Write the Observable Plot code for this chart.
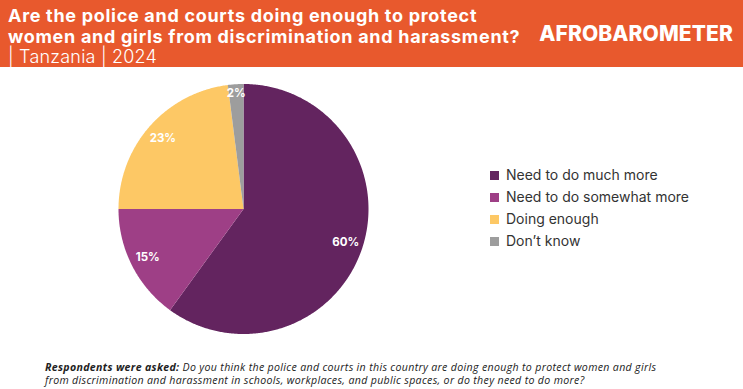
<!DOCTYPE html>
<html>
<head>
<meta charset="utf-8">
<script src="https://cdn.jsdelivr.net/npm/d3@7"></script>
<script src="https://cdn.jsdelivr.net/npm/@observablehq/plot@0.6"></script>
<style>
  html, body { margin: 0; padding: 0; background: #fff; }
  #page { position: relative; width: 743px; height: 389px; overflow: hidden; background: #fff; font-family: "Inter", "Open Sans", sans-serif; }
  #header { position: absolute; left: 0; top: 0; width: 743px; height: 67px; background: #E8592D; color: #fff; }
  #title { position: absolute; left: 8px; top: 6px; font-weight: 700; font-size: 18px; line-height: 20.5px; letter-spacing: 0.7px; }
  #title .sub { font-weight: 300; letter-spacing: 0.2px; }
  #logo { position: absolute; right: 10px; top: 21px; font-weight: 800; font-size: 21px; letter-spacing: 0.1px; }
  #chart { position: absolute; left: 0; top: 68px; }
  #legend { position: absolute; left: 490px; top: 164px; font-size: 14px; color: #333; }
  .item { height: 22px; line-height: 18px; display: flex; align-items: center; }
  .sw { width: 9px; height: 9px; margin-right: 7px; display: inline-block; }
  #footer { position: absolute; left: 45px; top: 361px; font-size: 10.6px; line-height: 13px; letter-spacing: 0.33px; font-style: italic; color: #222; font-family: "Open Sans", sans-serif; }
</style>
</head>
<body>
<div id="page">
  <div id="header">
    <div id="title">Are the police and courts doing enough to protect<br>women and girls from discrimination and harassment?<br><span class="sub">| Tanzania | 2024</span></div>
    <div id="logo">AFROBAROMETER</div>
  </div>
  <div id="chart"></div>
  <div id="legend"></div>
  <div id="footer"><b>Respondents were asked:</b> Do you think the police and courts in this country are doing enough to protect women and girls<br>from discrimination and harassment in schools, workplaces, and public spaces, or do they need to do more?</div>
</div>
<script>
const categories = ["Need to do much more", "Need to do somewhat more", "Doing enough", "Don\u2019t know"];
const values = [60, 15, 23, 2];
const labels = ["60%", "15%", "23%", "2%"];
const colors = ["#63245F", "#9E3F86", "#FDC865", "#9D9D9D"];

const total = d3.sum(values);
const slices = [];
const labelPts = [];
let acc = 0;
values.forEach((v, i) => {
  const a0 = acc / total * 2 * Math.PI;
  acc += v;
  const a1 = acc / total * 2 * Math.PI;
  slices.push({key: categories[i], x: 0, y: 0});
  const n = Math.max(2, Math.ceil((a1 - a0) / (Math.PI / 360)));
  for (let k = 0; k <= n; k++) {
    const a = a0 + (a1 - a0) * k / n;
    slices.push({key: categories[i], x: Math.sin(a), y: Math.cos(a)});
  }
  const am = (a0 + a1) / 2;
  const lr = v < 5 ? 0.93 : 0.86;
  labelPts.push({label: labels[i], x: lr * Math.sin(am), y: lr * Math.cos(am)});
});

const chart = Plot.plot({
  width: 743,
  height: 287,
  margin: 0,
  x: {domain: [-1, 1], range: [118, 368], axis: null},
  y: {domain: [-1, 1], range: [265.5, 15.5], axis: null},
  color: {domain: categories, range: colors},
  style: {background: "transparent", overflow: "visible"},
  marks: [
    Plot.line(slices, {x: "x", y: "y", z: "key", fill: "key", stroke: "none", curve: "linear"}),
    Plot.text(labelPts, {x: "x", y: "y", text: "label", fill: "#fff", fontWeight: 700, fontSize: 11.5, fontFamily: "Inter, sans-serif"})
  ]
});
document.getElementById("chart").appendChild(chart);

const legend = document.getElementById("legend");
categories.forEach((c, i) => {
  const d = document.createElement("div");
  d.className = "item";
  d.innerHTML = `<span class="sw" style="background:${colors[i]}"></span><span>${c}</span>`;
  legend.appendChild(d);
});
</script>
</body>
</html>
